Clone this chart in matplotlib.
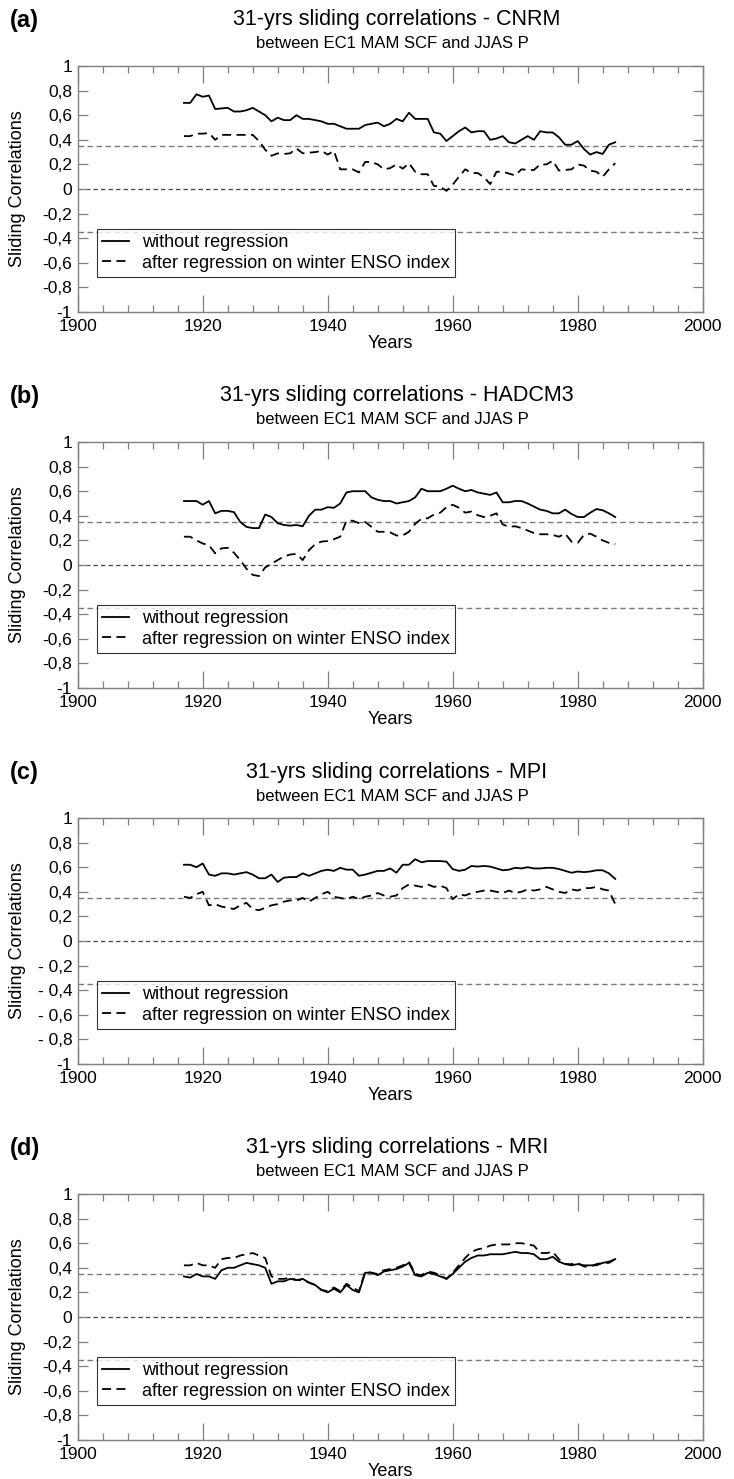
import matplotlib
matplotlib.use('Agg')
import matplotlib.pyplot as plt
from matplotlib.ticker import MultipleLocator, FuncFormatter
import numpy as np

plt.rcParams['font.family'] = ['Liberation Sans', 'DejaVu Sans']

years = np.arange(1917, 1987)

cnrm_raw = [0.70, 0.70, 0.77, 0.75, 0.76, 0.65, 0.655, 0.66, 0.63, 0.63, 0.64, 0.66, 0.63, 0.60,
            0.55, 0.58, 0.56, 0.56, 0.60, 0.57, 0.57, 0.56, 0.55, 0.53, 0.53, 0.51, 0.49, 0.49,
            0.49, 0.52, 0.53, 0.54, 0.51, 0.53, 0.57, 0.55, 0.62, 0.57, 0.57, 0.57, 0.46, 0.45,
            0.39, 0.43, 0.47, 0.50, 0.46, 0.47, 0.47, 0.40, 0.41, 0.43, 0.38, 0.37, 0.40, 0.43,
            0.40, 0.47, 0.46, 0.46, 0.42, 0.36, 0.36, 0.39, 0.325, 0.28, 0.30, 0.285, 0.36, 0.38]
cnrm_enso = [0.43, 0.43, 0.45, 0.45, 0.455, 0.40, 0.44, 0.44, 0.44, 0.44, 0.44, 0.44, 0.39, 0.32,
             0.27, 0.29, 0.285, 0.29, 0.33, 0.29, 0.295, 0.30, 0.31, 0.28, 0.31, 0.16, 0.16, 0.16,
             0.135, 0.22, 0.22, 0.20, 0.16, 0.17, 0.20, 0.165, 0.21, 0.14, 0.12, 0.12, 0.025, 0.02,
             -0.015, 0.035, 0.10, 0.16, 0.13, 0.13, 0.095, 0.04, 0.14, 0.14, 0.125, 0.11, 0.16, 0.155,
             0.155, 0.20, 0.20, 0.23, 0.15, 0.155, 0.16, 0.20, 0.19, 0.15, 0.14, 0.10, 0.16, 0.21]

hadcm3_raw = [0.52, 0.52, 0.52, 0.49, 0.52, 0.42, 0.44, 0.44, 0.43, 0.35, 0.31, 0.30, 0.30, 0.41,
              0.39, 0.34, 0.325, 0.32, 0.325, 0.315, 0.40, 0.45, 0.45, 0.47, 0.465, 0.50, 0.59, 0.60,
              0.60, 0.60, 0.55, 0.53, 0.52, 0.52, 0.50, 0.51, 0.52, 0.55, 0.62, 0.60, 0.60, 0.60,
              0.62, 0.645, 0.62, 0.60, 0.61, 0.59, 0.58, 0.57, 0.59, 0.51, 0.51, 0.52, 0.52, 0.50,
              0.475, 0.45, 0.44, 0.42, 0.42, 0.45, 0.415, 0.39, 0.39, 0.425, 0.455, 0.445, 0.42, 0.39]
hadcm3_enso = [0.23, 0.23, 0.20, 0.175, 0.16, 0.095, 0.135, 0.14, 0.10, 0.04, -0.03, -0.08, -0.09, -0.02,
               0.01, 0.04, 0.07, 0.085, 0.09, 0.04, 0.12, 0.17, 0.19, 0.195, 0.21, 0.23, 0.36, 0.36,
               0.34, 0.35, 0.31, 0.27, 0.27, 0.265, 0.24, 0.24, 0.27, 0.335, 0.375, 0.38, 0.41, 0.425,
               0.47, 0.49, 0.465, 0.425, 0.435, 0.405, 0.39, 0.40, 0.42, 0.33, 0.31, 0.315, 0.30, 0.28,
               0.26, 0.25, 0.25, 0.245, 0.23, 0.255, 0.19, 0.18, 0.245, 0.255, 0.23, 0.20, 0.18, 0.17]

mpi_raw = [0.62, 0.62, 0.60, 0.63, 0.54, 0.53, 0.55, 0.55, 0.54, 0.55, 0.56, 0.54, 0.51, 0.51,
           0.54, 0.48, 0.515, 0.52, 0.52, 0.55, 0.53, 0.55, 0.57, 0.58, 0.57, 0.595, 0.58, 0.58,
           0.53, 0.54, 0.555, 0.57, 0.57, 0.59, 0.555, 0.62, 0.62, 0.665, 0.64, 0.65, 0.65, 0.65,
           0.645, 0.585, 0.57, 0.58, 0.61, 0.605, 0.61, 0.605, 0.59, 0.575, 0.58, 0.595, 0.59, 0.60,
           0.59, 0.59, 0.595, 0.595, 0.585, 0.57, 0.555, 0.565, 0.56, 0.565, 0.575, 0.575, 0.55, 0.505]
mpi_enso = [0.36, 0.35, 0.38, 0.40, 0.29, 0.30, 0.28, 0.27, 0.26, 0.29, 0.31, 0.26, 0.25, 0.27,
            0.29, 0.30, 0.32, 0.33, 0.33, 0.35, 0.32, 0.35, 0.38, 0.40, 0.36, 0.35, 0.34, 0.36,
            0.34, 0.36, 0.37, 0.39, 0.37, 0.36, 0.37, 0.43, 0.46, 0.45, 0.44, 0.46, 0.44, 0.45,
            0.43, 0.34, 0.38, 0.37, 0.39, 0.40, 0.41, 0.41, 0.40, 0.39, 0.41, 0.39, 0.40, 0.42,
            0.41, 0.42, 0.44, 0.42, 0.40, 0.39, 0.42, 0.41, 0.43, 0.43, 0.44, 0.42, 0.41, 0.30]

mri_raw = [0.33, 0.32, 0.35, 0.33, 0.33, 0.31, 0.38, 0.40, 0.40, 0.42, 0.44, 0.43, 0.42, 0.40,
           0.27, 0.29, 0.29, 0.31, 0.30, 0.31, 0.28, 0.26, 0.22, 0.20, 0.23, 0.20, 0.26, 0.22,
           0.20, 0.36, 0.36, 0.34, 0.37, 0.38, 0.39, 0.41, 0.44, 0.34, 0.33, 0.36, 0.35, 0.33,
           0.31, 0.35, 0.40, 0.45, 0.48, 0.50, 0.50, 0.51, 0.51, 0.51, 0.52, 0.53, 0.52, 0.52,
           0.51, 0.47, 0.47, 0.49, 0.45, 0.43, 0.42, 0.43, 0.42, 0.42, 0.42, 0.44, 0.45, 0.47]
mri_enso = [0.42, 0.42, 0.44, 0.42, 0.42, 0.40, 0.47, 0.48, 0.48, 0.50, 0.51, 0.52, 0.50, 0.48,
            0.33, 0.31, 0.31, 0.32, 0.30, 0.30, 0.28, 0.26, 0.22, 0.21, 0.24, 0.21, 0.27, 0.24,
            0.21, 0.37, 0.36, 0.35, 0.38, 0.39, 0.40, 0.42, 0.45, 0.35, 0.34, 0.37, 0.36, 0.34,
            0.31, 0.36, 0.42, 0.48, 0.53, 0.55, 0.56, 0.58, 0.59, 0.59, 0.59, 0.60, 0.60, 0.59,
            0.58, 0.52, 0.52, 0.53, 0.47, 0.43, 0.43, 0.44, 0.41, 0.41, 0.43, 0.44, 0.44, 0.47]

panels = [('(a)', 'CNRM', cnrm_raw, cnrm_enso, False),
          ('(b)', 'HADCM3', hadcm3_raw, hadcm3_enso, False),
          ('(c)', 'MPI', mpi_raw, mpi_enso, True),
          ('(d)', 'MRI', mri_raw, mri_enso, False)]

W, H = 734, 1479
fig = plt.figure(figsize=(W / 100, H / 100), dpi=100)

x0, x1 = 77.7, 702.7
ah = 246
frame = '#808080'

def ylabfmt(spaced):
    def f(v, pos):
        if abs(v - round(v)) < 1e-6:
            return '%d' % int(round(v))
        s = ('%.1f' % abs(v)).replace('.', ',')
        if v < 0:
            return ('- ' if spaced else '-') + s
        return s
    return FuncFormatter(f)

for i, (tag, model, raw, enso, spaced) in enumerate(panels):
    top = 66 + 376 * i
    ax = fig.add_axes([x0 / W, 1 - (top + ah) / H, (x1 - x0) / W, ah / H])

    ax.axhline(0.35, color='#7a7a7a', lw=1.0, ls=(0, (4, 2.5)), zorder=1)
    ax.axhline(-0.35, color='#7a7a7a', lw=1.0, ls=(0, (4, 2.5)), zorder=1)
    ax.axhline(0, color='#444444', lw=0.9, ls=(0, (3.5, 2.5)), zorder=1)

    ax.plot(years, raw, color='black', lw=1.3, label='without regression', zorder=3)
    ax.plot(years, enso, color='black', lw=1.3, ls=(0, (5, 3)),
            label='after regression on winter ENSO index', zorder=3)

    ax.set_xlim(1900, 2000)
    ax.set_ylim(-1, 1)
    ax.xaxis.set_major_locator(MultipleLocator(20))
    ax.xaxis.set_minor_locator(MultipleLocator(4))
    ax.yaxis.set_major_locator(MultipleLocator(0.2))
    ax.yaxis.set_major_formatter(ylabfmt(spaced))
    ax.tick_params(axis='x', which='major', direction='in', top=True, length=12,
                   width=0.9, color=frame, labelsize=12.5, pad=5)
    ax.tick_params(axis='x', which='minor', direction='in', top=True, length=5,
                   width=0.9, color=frame)
    ax.tick_params(axis='y', which='major', direction='in', right=True, length=7,
                   width=0.9, color=frame, labelsize=12.5, pad=4)
    for sp in ax.spines.values():
        sp.set_color(frame)
        sp.set_linewidth(1.0)

    ax.set_xlabel('Years', fontsize=13, labelpad=1)
    ax.set_ylabel('Sliding Correlations', fontsize=13)
    ax.yaxis.set_label_coords(-0.082, 0.5)

    leg = ax.legend(loc='lower left', bbox_to_anchor=(0.0307, 0.142), borderaxespad=0,
                    fontsize=13, frameon=True, fancybox=False, handlelength=1.5,
                    handletextpad=0.7, borderpad=0.3, labelspacing=0.2)
    leg.get_frame().set_edgecolor('black')
    leg.get_frame().set_linewidth(0.8)
    leg.set_zorder(5)

    fig.text(10 / W, 1 - (top - 46) / H, tag, fontsize=17, fontweight='bold',
             ha='left', va='center')
    fig.text(397 / W, 1 - (top - 46) / H, '31-yrs sliding correlations - ' + model,
             fontsize=15.5, ha='center', va='center')
    fig.text(392 / W, 1 - (top - 22) / H, 'between EC1 MAM SCF and JJAS P',
             fontsize=12, ha='center', va='center')

fig.savefig('out.png', dpi=100)
